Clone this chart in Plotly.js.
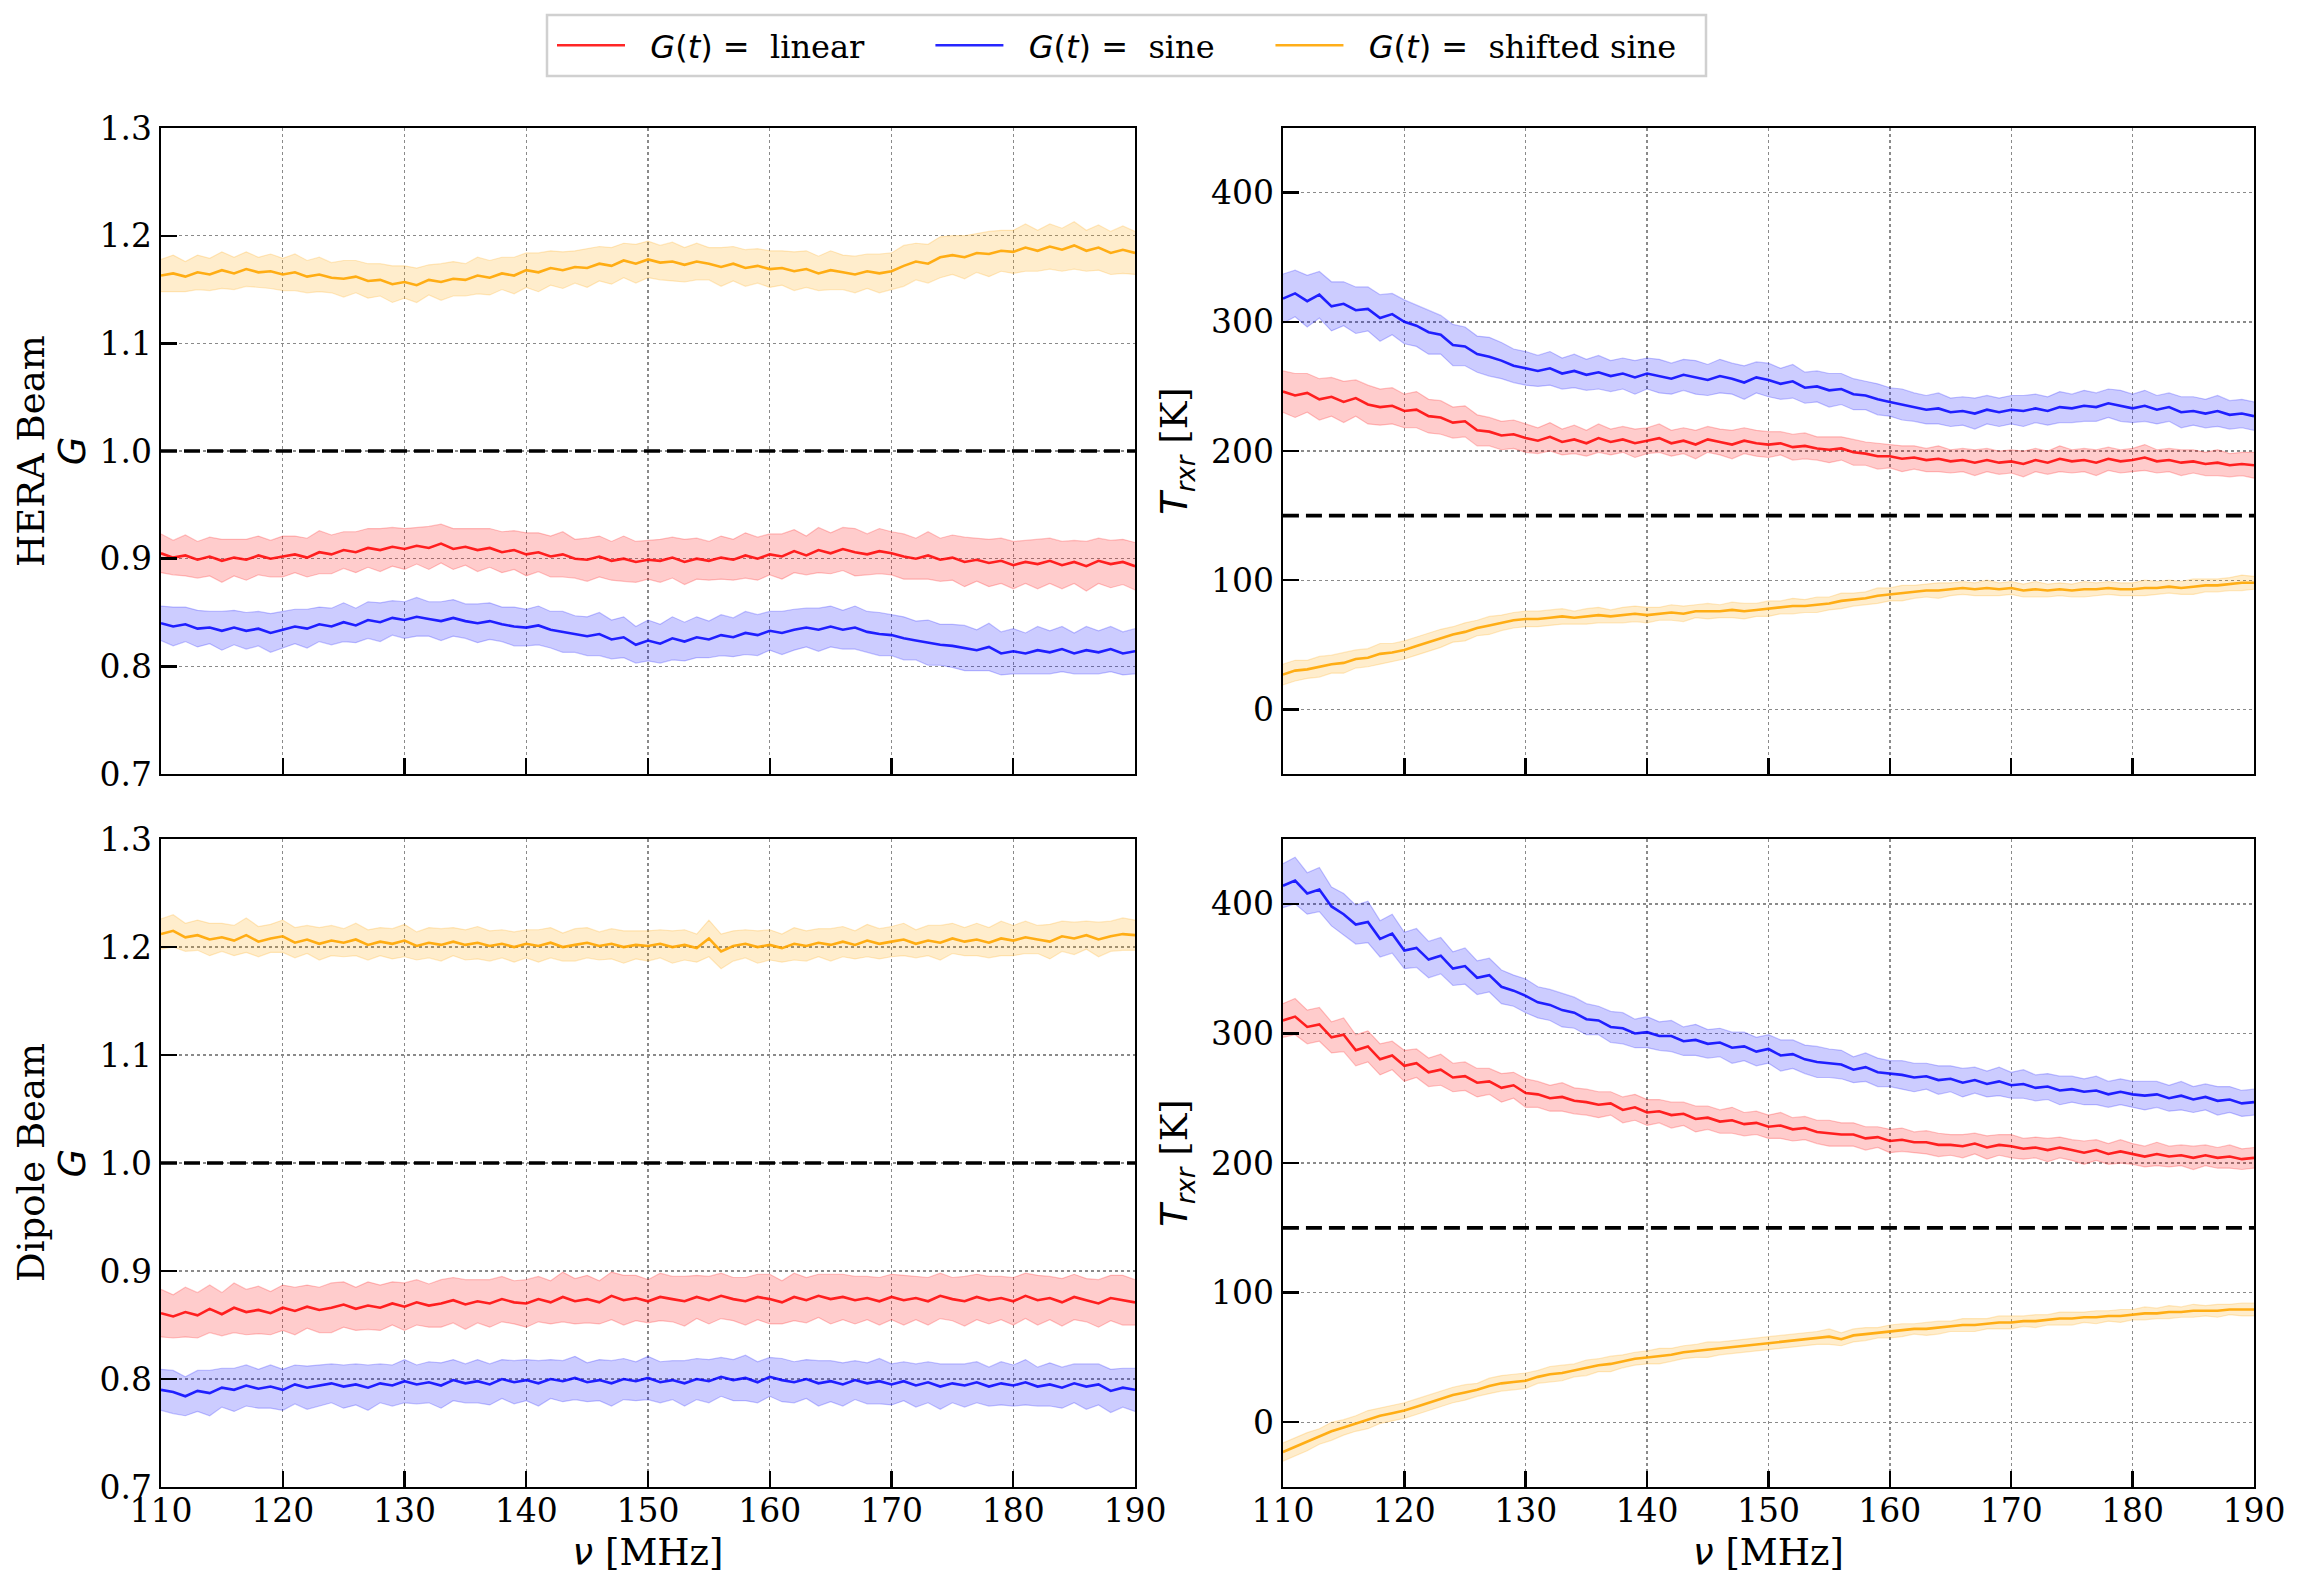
<!DOCTYPE html>
<html><head><meta charset="utf-8">
<script src="https://cdn.plot.ly/plotly-3.0.1.min.js"></script>
<style>html,body{margin:0;padding:0;background:#fff}#chart{width:2300px;height:1587px}</style>
</head><body><div id="chart"></div>
<script>
// ---- frequency channels (MHz) ----
const freqMHz = [110,111,112,113,114,115,116,117,118,119,120,121,122,123,124,125,126,127,128,129,130,131,132,133,134,135,136,137,138,139,140,141,142,143,144,145,146,147,148,149,150,151,152,153,154,155,156,157,158,159,160,161,162,163,164,165,166,167,168,169,170,171,172,173,174,175,176,177,178,179,180,181,182,183,184,185,186,187,188,189,190];

// ---- HERA beam, gain G ----
const heraG_linear = [.905,.901,.903,.899,.902,.898,.901,.899,.903,.900,.902,.904,.901,.906,.904,.908,.906,.910,.908,.911,.909,.912,.910,.914,.909,.911,.908,.910,.906,.908,.904,.906,.902,.904,.900,.899,.902,.898,.900,.897,.899,.898,.901,.897,.900,.898,.901,.899,.903,.900,.904,.902,.907,.903,.908,.905,.909,.906,.904,.907,.905,.902,.900,.903,.899,.901,.897,.899,.896,.898,.894,.897,.895,.898,.894,.897,.893,.898,.895,.897,.893];
const heraG_linear_err = [.018,.016,.019,.017,.018,.020,.017,.019,.018,.017,.019,.017,.018,.020,.018,.017,.019,.018,.020,.018,.019,.017,.020,.018,.019,.017,.020,.018,.019,.018,.020,.018,.019,.021,.018,.020,.019,.018,.021,.019,.018,.020,.019,.021,.019,.018,.020,.019,.021,.020,.019,.021,.020,.018,.021,.019,.020,.022,.019,.021,.020,.021,.019,.022,.020,.021,.023,.020,.022,.021,.022,.020,.023,.021,.022,.020,.023,.021,.022,.021,.022];
const heraG_sine = [.840,.837,.839,.835,.836,.833,.836,.833,.835,.831,.834,.837,.835,.839,.837,.841,.838,.843,.841,.845,.843,.846,.844,.842,.845,.842,.840,.842,.839,.837,.836,.838,.834,.832,.830,.828,.830,.825,.827,.820,.824,.821,.826,.823,.827,.825,.829,.827,.831,.829,.833,.831,.834,.836,.834,.837,.834,.836,.832,.830,.829,.826,.824,.822,.820,.819,.817,.815,.818,.812,.814,.812,.815,.813,.816,.812,.815,.813,.816,.812,.814];
const heraG_sine_err = [.016,.018,.016,.017,.015,.018,.016,.017,.016,.018,.017,.016,.018,.016,.017,.018,.016,.017,.018,.016,.017,.018,.016,.018,.017,.016,.018,.017,.016,.018,.017,.018,.017,.019,.017,.018,.020,.018,.019,.017,.019,.018,.020,.018,.019,.017,.019,.018,.020,.019,.018,.020,.019,.018,.020,.019,.018,.020,.019,.020,.019,.020,.018,.021,.019,.020,.021,.019,.022,.020,.021,.019,.022,.020,.021,.019,.022,.020,.021,.020,.021];
const heraG_shifted = [1.163,1.165,1.162,1.166,1.164,1.168,1.165,1.169,1.166,1.167,1.164,1.166,1.162,1.164,1.161,1.160,1.162,1.158,1.159,1.155,1.157,1.154,1.159,1.157,1.160,1.159,1.163,1.161,1.165,1.163,1.168,1.166,1.170,1.168,1.171,1.170,1.174,1.172,1.177,1.174,1.178,1.175,1.176,1.173,1.176,1.174,1.171,1.174,1.170,1.172,1.169,1.170,1.167,1.169,1.165,1.168,1.166,1.164,1.167,1.165,1.167,1.172,1.176,1.174,1.180,1.182,1.180,1.184,1.183,1.186,1.185,1.189,1.186,1.190,1.187,1.191,1.186,1.189,1.184,1.187,1.184];
const heraG_shifted_err = [.015,.017,.014,.016,.015,.017,.015,.016,.014,.016,.015,.017,.015,.016,.014,.017,.015,.016,.015,.017,.015,.016,.014,.017,.016,.015,.017,.016,.015,.017,.016,.018,.016,.017,.015,.018,.016,.017,.016,.018,.017,.016,.018,.016,.017,.015,.018,.016,.017,.016,.017,.016,.018,.017,.016,.018,.016,.017,.016,.018,.017,.019,.017,.018,.019,.018,.020,.018,.021,.019,.020,.022,.019,.021,.020,.022,.019,.021,.020,.022,.020];

// ---- HERA beam, receiver temperature T_rxr (K) ----
const heraT_linear = [246,243,245,240,242,238,241,236,234,235,231,232,227,226,222,223,216,215,212,213,210,208,211,207,209,206,210,207,209,206,208,210,206,208,205,209,207,205,208,206,205,206,203,204,202,201,202,199,198,196,196,194,195,193,194,192,193,191,193,191,192,190,193,191,194,192,193,191,194,192,193,195,192,193,191,192,190,191,189,190,189];
const heraT_linear_err = [16,17,15,16,15,16,14,15,14,14,13,14,13,13,12,12,12,11,11,11,11,10,11,10,11,10,11,10,10,11,10,11,10,10,11,10,10,11,10,10,10,9,10,10,9,10,9,10,9,10,9,10,9,9,10,9,9,10,9,9,9,10,9,9,10,9,9,10,9,9,9,10,9,9,10,9,9,10,9,9,10];
const heraT_sine = [318,322,316,321,312,314,309,310,303,306,300,297,292,290,282,281,275,273,270,266,264,262,264,260,262,259,261,258,260,257,260,258,256,259,257,255,258,256,253,257,255,252,254,249,250,247,248,244,243,240,238,236,234,232,233,230,231,229,232,230,232,231,233,231,234,233,235,234,237,235,233,235,232,234,230,231,229,231,228,229,227];
const heraT_sine_err = [19,18,20,18,19,17,18,17,18,16,17,16,17,15,16,15,14,15,14,13,13,12,13,12,13,12,13,12,12,13,12,13,12,12,13,12,13,12,13,12,13,12,13,12,12,13,12,12,11,12,11,12,11,11,12,11,11,12,11,11,11,12,11,11,12,11,12,11,11,12,11,12,11,11,12,11,11,12,11,11,11];
const heraT_shifted = [27,30,31,33,35,36,39,40,43,44,46,49,52,55,58,60,63,65,67,69,70,70,71,72,71,72,73,72,73,74,73,74,75,74,76,76,76,77,76,77,78,79,80,80,81,82,84,85,86,88,89,90,91,92,92,93,94,93,94,93,94,92,93,92,93,92,93,93,94,93,93,94,94,95,94,95,96,96,97,98,98];
const heraT_shifted_err = [8,8,7,8,7,8,7,7,8,7,7,7,7,7,6,7,6,7,6,6,6,6,6,6,5,6,6,5,6,6,6,5,6,6,5,6,5,6,6,5,6,5,6,5,6,5,6,5,5,6,5,6,5,5,6,5,5,5,6,5,5,5,6,5,5,5,6,5,5,5,5,6,5,5,5,6,5,5,5,6,5];

// ---- Dipole beam, gain G ----
const dipG_linear = [.861,.858,.862,.859,.865,.860,.866,.862,.864,.861,.866,.863,.867,.864,.866,.869,.865,.868,.866,.870,.867,.871,.868,.870,.873,.869,.872,.870,.874,.871,.870,.874,.871,.876,.872,.874,.871,.877,.873,.875,.872,.876,.874,.872,.876,.873,.877,.874,.872,.876,.874,.871,.876,.873,.877,.874,.876,.873,.875,.872,.876,.873,.875,.872,.877,.874,.872,.876,.873,.875,.872,.877,.873,.875,.871,.876,.873,.870,.875,.873,.871];
const dipG_linear_err = [.022,.020,.023,.021,.022,.020,.023,.021,.022,.020,.021,.022,.020,.021,.023,.021,.020,.022,.021,.020,.022,.021,.020,.022,.021,.023,.020,.022,.021,.020,.022,.021,.020,.023,.021,.022,.020,.022,.023,.021,.020,.022,.021,.023,.020,.022,.021,.020,.022,.021,.023,.020,.022,.021,.020,.023,.021,.022,.020,.022,.021,.023,.020,.022,.021,.020,.023,.021,.022,.020,.022,.021,.023,.020,.022,.021,.020,.022,.021,.023,.021];
const dipG_sine = [.790,.788,.784,.789,.787,.792,.790,.794,.791,.793,.790,.795,.792,.794,.796,.793,.795,.792,.796,.794,.798,.795,.797,.794,.799,.796,.798,.795,.800,.797,.799,.796,.800,.798,.801,.797,.799,.796,.800,.798,.801,.797,.799,.796,.800,.798,.802,.799,.801,.797,.802,.799,.797,.800,.796,.798,.795,.799,.796,.798,.795,.798,.794,.797,.793,.796,.794,.797,.793,.796,.794,.797,.793,.795,.792,.796,.793,.795,.789,.792,.790];
const dipG_sine_err = [.019,.020,.018,.019,.021,.018,.020,.019,.018,.020,.019,.018,.020,.019,.018,.020,.019,.021,.018,.019,.020,.018,.019,.021,.019,.018,.020,.019,.018,.020,.019,.021,.018,.019,.020,.018,.019,.021,.019,.018,.020,.019,.018,.021,.019,.020,.018,.019,.021,.019,.018,.020,.019,.018,.021,.019,.020,.018,.019,.021,.019,.018,.020,.019,.021,.018,.020,.019,.018,.020,.019,.021,.018,.020,.019,.018,.021,.019,.020,.018,.020];
const dipG_shifted = [1.212,1.215,1.209,1.211,1.207,1.209,1.206,1.211,1.205,1.208,1.210,1.204,1.207,1.203,1.206,1.204,1.207,1.202,1.205,1.203,1.206,1.201,1.204,1.202,1.205,1.202,1.204,1.201,1.203,1.200,1.203,1.201,1.204,1.200,1.202,1.204,1.201,1.203,1.200,1.202,1.201,1.203,1.200,1.202,1.199,1.208,1.196,1.201,1.203,1.200,1.202,1.199,1.203,1.201,1.204,1.202,1.205,1.202,1.206,1.203,1.205,1.207,1.203,1.206,1.204,1.208,1.205,1.207,1.204,1.208,1.206,1.209,1.207,1.205,1.210,1.208,1.211,1.207,1.210,1.212,1.211];
const dipG_shifted_err = [.014,.015,.013,.014,.015,.013,.014,.016,.014,.013,.015,.014,.013,.015,.014,.013,.015,.014,.013,.014,.015,.013,.014,.015,.013,.014,.015,.014,.013,.014,.013,.015,.014,.013,.015,.014,.013,.014,.015,.013,.014,.013,.015,.014,.013,.017,.016,.014,.013,.015,.014,.013,.015,.014,.013,.015,.014,.013,.015,.014,.014,.015,.013,.014,.016,.014,.013,.015,.014,.016,.014,.015,.013,.016,.014,.015,.013,.016,.014,.015,.014];

// ---- Dipole beam, receiver temperature T_rxr (K) ----
const dipT_linear = [310,313,305,307,297,299,287,290,280,283,275,277,270,272,266,267,262,263,258,260,254,253,250,251,248,247,245,246,241,243,239,240,237,238,234,235,232,233,230,231,228,229,226,227,224,223,222,222,219,220,217,218,216,216,214,214,213,215,212,214,213,211,212,210,212,210,208,210,207,209,207,205,207,205,206,204,206,204,205,203,204];
const dipT_linear_err = [13,14,13,13,12,13,12,12,12,11,12,11,11,12,11,11,11,10,11,10,11,10,10,11,10,10,10,9,10,10,10,9,10,9,10,9,9,10,9,9,9,10,9,9,9,10,9,9,9,8,9,9,8,9,9,8,9,8,9,8,9,8,8,9,8,8,9,8,8,9,8,8,9,8,8,9,8,8,9,8,8];
const dipT_sine = [414,418,408,411,398,392,384,386,373,377,364,366,357,360,350,352,343,345,336,333,329,324,322,318,316,311,310,305,304,300,301,298,298,294,295,292,293,289,290,286,288,283,284,280,278,277,276,272,274,270,269,268,266,267,264,265,262,264,261,263,260,261,258,259,256,257,255,256,253,255,253,252,253,250,252,249,251,248,249,246,247];
const dipT_sine_err = [17,18,16,17,15,16,15,16,14,15,14,15,14,14,13,14,13,13,13,12,13,12,12,13,12,12,11,12,12,11,12,11,12,11,12,11,11,12,11,11,11,12,11,11,12,11,11,10,11,11,10,11,11,10,11,10,11,10,10,11,10,11,10,10,11,10,10,11,10,10,10,11,10,10,11,10,10,11,10,10,10];
const dipT_shifted = [-23,-19,-15,-11,-7,-4,-1,2,5,7,9,12,15,18,21,23,25,28,30,31,32,35,37,38,40,42,44,45,47,49,50,51,52,54,55,56,57,58,59,60,61,62,63,64,65,66,64,67,68,69,70,71,72,72,73,74,75,75,76,77,77,78,78,79,80,80,81,81,82,82,83,84,84,85,85,86,86,86,87,87,87];
const dipT_shifted_err = [7,7,7,6,7,6,6,7,6,6,6,6,6,6,6,6,5,6,6,6,6,5,6,6,5,6,5,6,5,5,5,6,5,5,5,6,5,5,5,5,5,5,5,5,5,6,5,5,5,4,5,5,4,5,5,4,5,5,4,5,5,4,5,4,5,5,4,5,4,5,4,5,4,5,4,5,4,5,4,5,5];

// ---- reference (true) values ----
const trueGain = 1.0;
const trueTrxr = 150;

// ---- categories / tick labels ----
const gainLabels = ['linear', 'sine', 'shifted sine'];
const beamLabels = ['HERA Beam', 'Dipole Beam'];
const gTicks = [0.7, 0.8, 0.9, 1.0, 1.1, 1.2, 1.3];
const tTicks = [0, 100, 200, 300, 400];
const fTicks = [110, 120, 130, 140, 150, 160, 170, 180, 190];

const colors = {
  line: ['rgba(255,0,0,0.85)', 'rgba(0,0,255,0.85)', 'rgba(255,165,0,0.9)'],
  fill: ['rgba(255,0,0,0.2)', 'rgba(0,0,255,0.2)', 'rgba(255,165,0,0.2)'],
  edge: ['rgba(255,0,0,0.22)', 'rgba(0,0,255,0.22)', 'rgba(255,165,0,0.22)']
};

const panels = [
  {xa: 'x',  ya: 'y',  ref: trueGain, s: [[heraG_linear, heraG_linear_err], [heraG_sine, heraG_sine_err], [heraG_shifted, heraG_shifted_err]], legend: true},
  {xa: 'x2', ya: 'y2', ref: trueTrxr, s: [[heraT_linear, heraT_linear_err], [heraT_sine, heraT_sine_err], [heraT_shifted, heraT_shifted_err]]},
  {xa: 'x3', ya: 'y3', ref: trueGain, s: [[dipG_linear, dipG_linear_err], [dipG_sine, dipG_sine_err], [dipG_shifted, dipG_shifted_err]]},
  {xa: 'x4', ya: 'y4', ref: trueTrxr, s: [[dipT_linear, dipT_linear_err], [dipT_sine, dipT_sine_err], [dipT_shifted, dipT_shifted_err]]}
];

const nb = '\u00a0';
const rep = n => nb.repeat(n);
const legendPad = [rep(6), rep(5), ''];
const legendName = (n, k) => rep(2) + '<span style="font-family:DejaVu Sans"><i>G</i>(<i>t</i>) = </span>' + nb + n + legendPad[k];

const traces = [];
panels.forEach(p => {
  p.s.forEach(([mean, err], k) => {
    const lo = mean.map((v, i) => v - err[i]);
    const hi = mean.map((v, i) => v + err[i]);
    traces.push({x: freqMHz, y: lo, xaxis: p.xa, yaxis: p.ya, mode: 'lines', type: 'scatter',
      line: {color: colors.edge[k], width: 1.2}, showlegend: false, hoverinfo: 'skip'});
    traces.push({x: freqMHz, y: hi, xaxis: p.xa, yaxis: p.ya, mode: 'lines', type: 'scatter',
      fill: 'tonexty', fillcolor: colors.fill[k],
      line: {color: colors.edge[k], width: 1.2}, showlegend: false, hoverinfo: 'skip'});
  });
  p.s.forEach(([mean], k) => {
    traces.push({x: freqMHz, y: mean, xaxis: p.xa, yaxis: p.ya, mode: 'lines', type: 'scatter',
      name: legendName(gainLabels[k], k), legendgroup: gainLabels[k], showlegend: !!p.legend,
      line: {color: colors.line[k], width: 2.6}});
  });
  traces.push({x: [freqMHz[0], freqMHz[freqMHz.length - 1]], y: [p.ref, p.ref], xaxis: p.xa, yaxis: p.ya,
    mode: 'lines', type: 'scatter', showlegend: false, hoverinfo: 'skip',
    line: {color: '#000', width: 3.6, dash: '16px,7px'}});
});

const tickFont = {family: 'DejaVu Serif', size: 33, color: '#000'};
const titleFont = {family: 'DejaVu Serif', size: 37, color: '#000'};
const common = {
  showline: true, mirror: true, linecolor: '#000', linewidth: 2.4,
  ticks: 'inside', ticklen: 16, tickwidth: 2.4, tickcolor: '#000',
  showgrid: true, gridcolor: '#8a8a8a', gridwidth: 1.4, griddash: 'dot',
  zeroline: false, tickfont: tickFont
};
const xCommon = Object.assign({}, common, {range: [110, 190], tickvals: fTicks, ticklabelstandoff: -7});
const gAxis = Object.assign({}, common, {range: [0.7, 1.3], tickvals: gTicks, tickformat: '.1f', ticklabelstandoff: 0});
const tAxis = Object.assign({}, common, {range: [-50, 450], tickvals: tTicks, ticklabelstandoff: 0});

const xL = [0.0700, 0.4935], xR = [0.5578, 0.9800];
const yT = [0.5123, 0.9193], yB = [0.0630, 0.4713];
const gTitle = {text: '<span style="font-family:DejaVu Sans"><i>G</i></span>', font: titleFont, standoff: 3};
const nuTitle = {text: '<span style="font-family:DejaVu Sans"><i>ν</i></span>' + nb + '[MHz]', font: titleFont, standoff: 10};
const trxrTitle = {text: '<span style="font-family:DejaVu Sans"><i>T</i><sub><i>rxr</i></sub></span>' + nb + '[K]', font: titleFont, standoff: 12};

const rowAnnot = (txt, dom) => ({text: txt, xref: 'paper', yref: 'paper', x: 31 / 2300, y: (dom[0] + dom[1]) / 2,
  xanchor: 'center', yanchor: 'middle', textangle: -90, showarrow: false, font: titleFont});

const layout = {
  width: 2300, height: 1587,
  margin: {l: 0, r: 0, t: 0, b: 0},
  paper_bgcolor: '#fff', plot_bgcolor: '#fff',
  showlegend: true,
  legend: {orientation: 'h', x: 552 / 2300, xanchor: 'left', y: 1 - 45.5 / 1587, yanchor: 'middle',
    font: {family: 'DejaVu Serif', size: 32, color: '#000'},
    borderwidth: 0, bgcolor: 'rgba(0,0,0,0)', itemwidth: 68},
  shapes: [{type: 'rect', xref: 'paper', yref: 'paper', x0: 547 / 2300, x1: 1706 / 2300,
    y0: 1 - 76 / 1587, y1: 1 - 15 / 1587, line: {color: '#d0d0d0', width: 2.5}, fillcolor: '#fff', layer: 'below'}],
  annotations: [rowAnnot(beamLabels[0], yT), rowAnnot(beamLabels[1], yB)],
  xaxis:  Object.assign({}, xCommon, {domain: xL, anchor: 'y', showticklabels: false}),
  yaxis:  Object.assign({}, gAxis, {domain: yT, anchor: 'x', title: gTitle}),
  xaxis2: Object.assign({}, xCommon, {domain: xR, anchor: 'y2', showticklabels: false}),
  yaxis2: Object.assign({}, tAxis, {domain: yT, anchor: 'x2', title: trxrTitle}),
  xaxis3: Object.assign({}, xCommon, {domain: xL, anchor: 'y3', title: nuTitle}),
  yaxis3: Object.assign({}, gAxis, {domain: yB, anchor: 'x3', title: gTitle}),
  xaxis4: Object.assign({}, xCommon, {domain: xR, anchor: 'y4', title: nuTitle}),
  yaxis4: Object.assign({}, tAxis, {domain: yB, anchor: 'x4', title: trxrTitle})
};

Plotly.newPlot('chart', traces, layout, {staticPlot: true, displayModeBar: false});
</script></body></html>
